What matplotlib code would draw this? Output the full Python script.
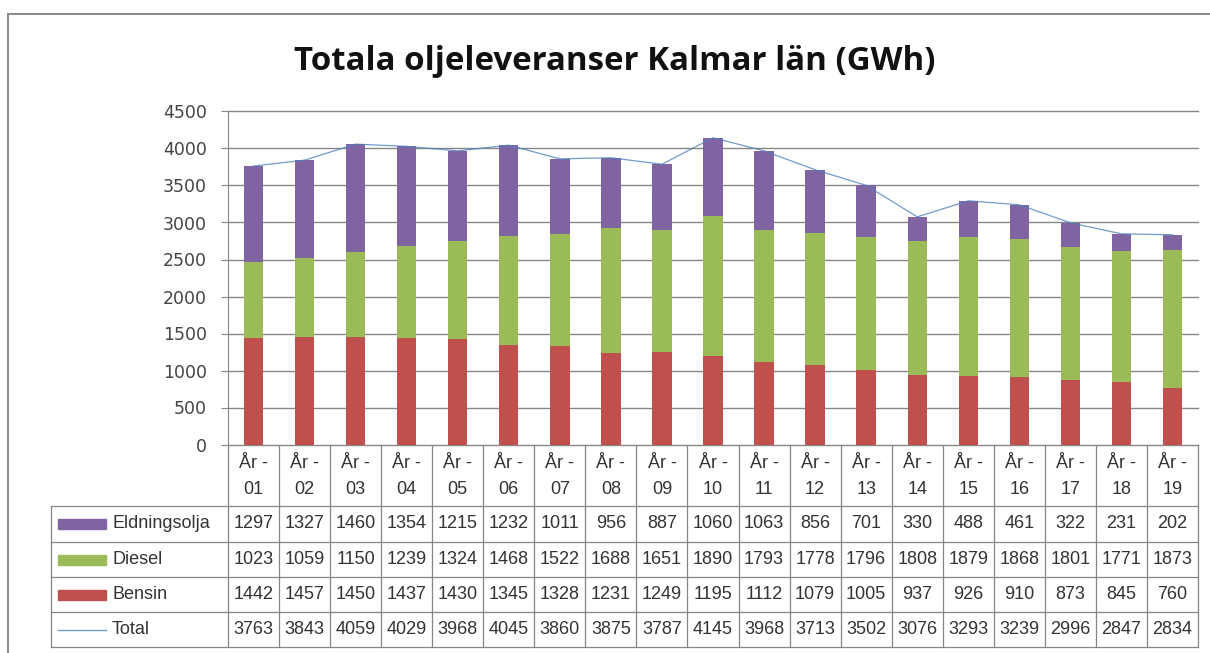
import numpy as np
import matplotlib.pyplot as plt
from matplotlib.patches import Rectangle
from matplotlib.lines import Line2D
from matplotlib.transforms import blended_transform_factory

years = ["01", "02", "03", "04", "05", "06", "07", "08", "09", "10",
         "11", "12", "13", "14", "15", "16", "17", "18", "19"]
eldningsolja = [1297, 1327, 1460, 1354, 1215, 1232, 1011, 956, 887, 1060,
                1063, 856, 701, 330, 488, 461, 322, 231, 202]
diesel = [1023, 1059, 1150, 1239, 1324, 1468, 1522, 1688, 1651, 1890,
          1793, 1778, 1796, 1808, 1879, 1868, 1801, 1771, 1873]
bensin = [1442, 1457, 1450, 1437, 1430, 1345, 1328, 1231, 1249, 1195,
          1112, 1079, 1005, 937, 926, 910, 873, 845, 760]
total = [3763, 3843, 4059, 4029, 3968, 4045, 3860, 3875, 3787, 4145,
         3968, 3713, 3502, 3076, 3293, 3239, 2996, 2847, 2834]

c_eld = "#8064A2"
c_die = "#9BBB59"
c_ben = "#C0504D"
c_tot = "#4F81BD"
grid_c = "#868686"
txt_c = "#333333"

W, H = 1210, 653
fig = plt.figure(figsize=(W / 100, H / 100), dpi=100)

def fy(py):
    return 1 - py / H

def fx(px):
    return px / W

# outer frame
fig.add_artist(Rectangle((fx(8), fy(700)), 1.2, fy(14) - fy(700), transform=fig.transFigure,
                         fill=False, edgecolor="#8c8c8c", lw=1.5))

ax = fig.add_axes([fx(228), fy(444.5), fx(1198) - fx(228), fy(111.5) - fy(444.5)])
x = np.arange(len(years))
bw = 0.38
ax.bar(x, bensin, bw, color=c_ben, zorder=3)
ax.bar(x, diesel, bw, bottom=bensin, color=c_die, zorder=3)
bot2 = np.array(bensin) + np.array(diesel)
ax.bar(x, eldningsolja, bw, bottom=bot2, color=c_eld, zorder=3)
ax.plot(x, total, color=c_tot, lw=0.9, zorder=4, alpha=0.8)

ax.set_xlim(-0.5, len(years) - 0.5)
ax.set_ylim(0, 4500)
ax.set_yticks(np.arange(0, 4501, 500))
ax.grid(axis="y", color=grid_c, lw=1, zorder=0)
for gl in ax.yaxis.get_gridlines():
    gl.set_clip_on(False)
ax.set_xticks([])
for s in ["top", "right", "bottom"]:
    ax.spines[s].set_visible(False)
ax.spines["left"].set_color(grid_c)
ax.tick_params(axis="y", length=5, color=grid_c, labelsize=12.5, labelcolor="#444444", pad=10)
for lab in ax.get_yticklabels():
    lab.set_family("DejaVu Sans")

fig.text(0.508, fy(62), "Totala oljeleveranser Kalmar län (GWh)", ha="center", va="center",
         fontsize=23.8, fontweight="bold", family=["Open Sans", "DejaVu Sans"], color="#111111")

# data table under the plot
tr = blended_transform_factory(ax.transData, fig.transFigure)
tfont = dict(family=["Liberation Sans Narrow", "Liberation Sans"], fontsize=13, color=txt_c)
row_y = [444.5, 506, 542, 577, 612, 647]

# header cells
for k in range(len(years) + 1):
    ax.add_line(Line2D([k - 0.5, k - 0.5], [fy(444.5), fy(647)], transform=tr,
                       color=grid_c, lw=0.9, clip_on=False))
for k, yr in enumerate(years):
    ax.text(k, fy(464), "År -", transform=tr, ha="center", va="center", **tfont)
    ax.text(k, fy(490), yr, transform=tr, ha="center", va="center", **tfont)

# horizontal lines
for py in row_y[1:]:
    fig.add_artist(Line2D([fx(51), fx(1198)], [fy(py), fy(py)], color=grid_c, lw=0.9))
fig.add_artist(Line2D([fx(51), fx(51)], [fy(506), fy(647)], color=grid_c, lw=0.9))

rows = [("Eldningsolja", eldningsolja, c_eld),
        ("Diesel", diesel, c_die),
        ("Bensin", bensin, c_ben),
        ("Total", total, c_tot)]
for i, (name, vals, col) in enumerate(rows):
    yc = fy((row_y[i + 1] + row_y[i + 2]) / 2)
    if name == "Total":
        fig.add_artist(Line2D([fx(58), fx(106)], [yc, yc], color=col, lw=1, alpha=0.8))
    else:
        fig.add_artist(Rectangle((fx(58), yc - 5 / H), fx(48), 10 / H,
                                 transform=fig.transFigure, color=col))
    fig.text(fx(112), yc, name, ha="left", va="center", **tfont)
    for k, v in enumerate(vals):
        ax.text(k, yc, str(v), transform=tr, ha="center", va="center", **tfont)

fig.savefig("out.png", dpi=100)
